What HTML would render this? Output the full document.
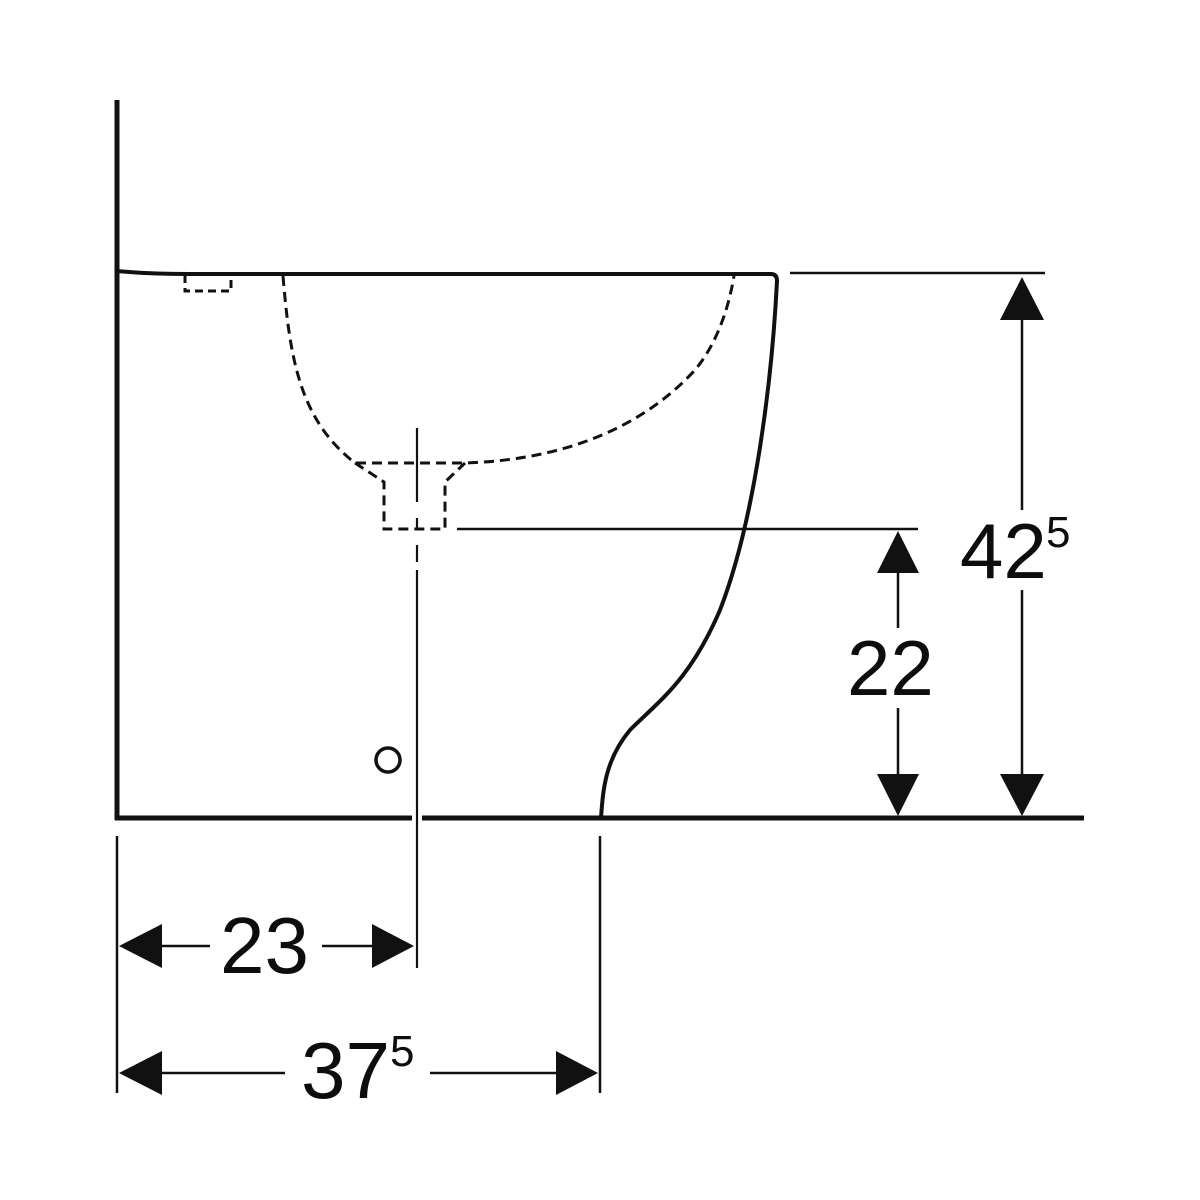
<!DOCTYPE html>
<html><head><meta charset="utf-8"><style>
html,body{margin:0;padding:0;background:#fff}
svg{display:block}
text{font-family:"Liberation Sans",Arial,sans-serif;fill:#0d0d0d}
</style></head><body>
<svg width="1200" height="1200" viewBox="0 0 1200 1200" xmlns="http://www.w3.org/2000/svg">
<g fill="none" stroke="#111" stroke-linecap="butt">
  <line x1="117" y1="100" x2="117" y2="820" stroke-width="5"/>
  <line x1="115" y1="818" x2="412" y2="818" stroke-width="5"/>
  <line x1="422" y1="818" x2="1084" y2="818" stroke-width="5"/>
  <path d="M117 271 Q150 274 190 274 L771 274 Q777 274 777 281 C772 380 755 520 720 610 C690 680 660 700 630 730 C605 760 603 790 601 818" stroke-width="4"/>
  <path d="M185 275 V291 H231 V275" stroke-width="3" stroke-dasharray="8 5"/>
  <path d="M283 276 C290 360 300 420 355 463 L465 463 C560 460 640 430 695 370 C720 340 730 300 734 276" stroke-width="3" stroke-dasharray="10 6"/>
  <path d="M355 463 L384 482 V529 H445 V482 L465 463" stroke-width="3" stroke-dasharray="10 6"/>
  <line x1="417" y1="428" x2="417" y2="502" stroke-width="2.2"/>
  <line x1="417" y1="518" x2="417" y2="530" stroke-width="2.2"/>
  <line x1="417" y1="545" x2="417" y2="562" stroke-width="2.2"/>
  <line x1="417" y1="570" x2="417" y2="968" stroke-width="2.2"/>
  <line x1="457" y1="529" x2="918" y2="529" stroke-width="2.5"/>
  <line x1="790" y1="273" x2="1045" y2="273" stroke-width="2.5"/>
  <circle cx="388" cy="760" r="12" stroke-width="3.5"/>
  <line x1="117" y1="836" x2="117" y2="1093" stroke-width="2.5"/>
  <line x1="600" y1="836" x2="600" y2="1093" stroke-width="2.5"/>
  <line x1="1022" y1="318" x2="1022" y2="510" stroke-width="2.5"/>
  <line x1="1022" y1="590" x2="1022" y2="776" stroke-width="2.5"/>
  <line x1="898" y1="572" x2="898" y2="628" stroke-width="2.5"/>
  <line x1="898" y1="708" x2="898" y2="776" stroke-width="2.5"/>
  <line x1="160" y1="946" x2="210" y2="946" stroke-width="2.5"/>
  <line x1="322" y1="946" x2="375" y2="946" stroke-width="2.5"/>
  <line x1="160" y1="1073" x2="285" y2="1073" stroke-width="2.5"/>
  <line x1="430" y1="1073" x2="558" y2="1073" stroke-width="2.5"/>
</g>
<g fill="#111">
  <polygon points="1022,277 1000,320 1044,320"/>
  <polygon points="1022,816 1000,774 1044,774"/>
  <polygon points="898,531 877,573 919,573"/>
  <polygon points="898,816 877,774 919,774"/>
  <polygon points="119,946 162,924 162,968"/>
  <polygon points="414,946 372,924 372,968"/>
  <polygon points="119,1073 162,1051 162,1095"/>
  <polygon points="598,1073 556,1051 556,1095"/>
</g>
<text x="960" y="578" font-size="78">42</text>
<text x="1046" y="547" font-size="44">5</text>
<text x="847" y="695" font-size="78">22</text>
<text x="220" y="973" font-size="80">23</text>
<text x="301" y="1098" font-size="80">37</text>
<text x="390" y="1066" font-size="44">5</text>
</svg>
</body></html>
